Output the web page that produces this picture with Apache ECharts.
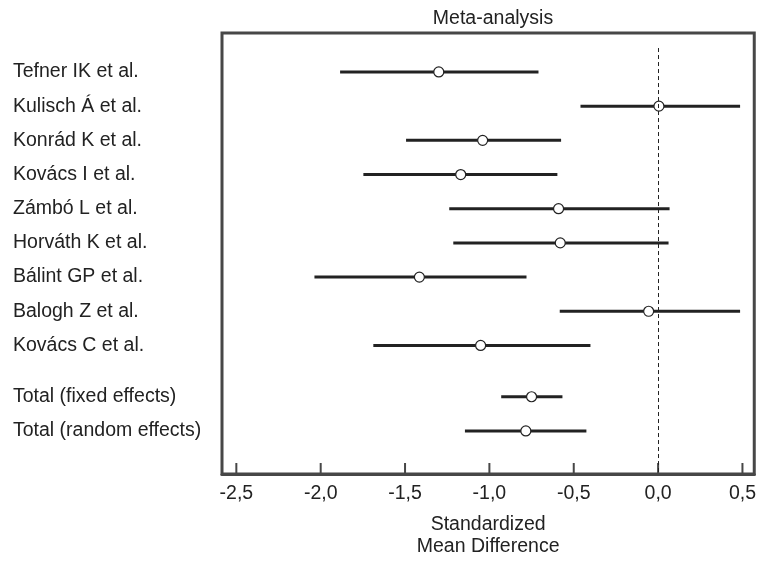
<!DOCTYPE html>
<html>
<head>
<meta charset="utf-8">
<style>
  html, body { margin: 0; padding: 0; background: #fff; }
  #chart { width: 759px; height: 563px; }
</style>
<script src="https://cdn.jsdelivr.net/npm/echarts@6/dist/echarts.min.js"></script>
</head>
<body>
<div id="chart"></div>
<script>
// ── Data ──
const studies = [
  'Tefner IK et al.', 'Kulisch Á et al.', 'Konrád K et al.', 'Kovács I et al.',
  'Zámbó L et al.', 'Horváth K et al.', 'Bálint GP et al.', 'Balogh Z et al.',
  'Kovács C et al.', 'Total (fixed effects)', 'Total (random effects)',
];
const rowPos = [0, 1, 2, 3, 4, 5, 6, 7, 8, 9.5, 10.5];
const smd   = [-1.30, 0.005, -1.04, -1.17, -0.59, -0.58, -1.415, -0.056, -1.052, -0.75, -0.784];
const lower = [-1.885, -0.46, -1.494, -1.747, -1.238, -1.214, -2.037, -0.583, -1.688, -0.93, -1.145];
const upper = [-0.709, 0.486, -0.575, -0.597, 0.068, 0.062, -0.78, 0.486, -0.401, -0.567, -0.425];
const xTicks = [-2.5, -2.0, -1.5, -1.0, -0.5, 0.0, 0.5];

const FONT = '"Liberation Sans", Arial, sans-serif';
const FS = 19.5;
const TEXT = '#222';
const FRAME = '#474747';

const X_MIN = -2.585, X_MAX = 0.57;
const Y_MIN = -1.14, Y_MAX = 11.76;

const chart = echarts.init(document.getElementById('chart'), null, { renderer: 'canvas' });

const ciData = rowPos.map((y, i) => [lower[i], upper[i], y]);
const ptData = rowPos.map((y, i) => [smd[i], y]);
const tickData = xTicks.map(v => [v, Y_MAX]);

chart.setOption({
  backgroundColor: '#fff',
  animation: false,
  textStyle: { fontFamily: FONT },
  title: {
    text: 'Meta-analysis',
    left: 488, top: 4, textAlign: 'center',
    textStyle: { fontSize: FS, fontWeight: 'normal', color: TEXT, fontFamily: FONT },
  },
  grid: {
    left: 222, right: 4, top: 33, bottom: 89,
    show: true, borderColor: FRAME, borderWidth: 3, backgroundColor: 'transparent',
  },
  xAxis: {
    type: 'value', min: X_MIN, max: X_MAX,
    splitLine: { show: false },
    axisLine: { show: true, onZero: false, lineStyle: { color: FRAME, width: 3 } },
    axisTick: { show: false },
    axisLabel: {
      customValues: xTicks, margin: 10,
      fontSize: FS, color: TEXT, fontFamily: FONT,
      formatter: v => v.toFixed(1).replace('.', ','),
    },
    name: 'Standardized\nMean Difference',
    nameLocation: 'middle', nameGap: 40,
    nameTextStyle: { fontSize: FS, color: TEXT, fontFamily: FONT, lineHeight: 22 },
  },
  yAxis: {
    type: 'value', inverse: true, min: Y_MIN, max: Y_MAX,
    splitLine: { show: false },
    axisLine: { show: false, onZero: false },
    axisTick: { show: false },
    axisLabel: {
      customValues: rowPos, align: 'left', margin: 209,
      fontSize: FS, color: TEXT, fontFamily: FONT,
      formatter: v => studies[rowPos.indexOf(v)] || '',
    },
  },
  series: [
    {
      type: 'custom',
      data: ciData,
      encode: { x: [0, 1], y: 2 },
      renderItem: (params, api) => {
        const a = api.coord([api.value(0), api.value(2)]);
        const b = api.coord([api.value(1), api.value(2)]);
        return {
          type: 'line',
          shape: { x1: a[0], y1: a[1], x2: b[0], y2: b[1] },
          style: { stroke: '#222', lineWidth: 3 },
        };
      },
      markLine: {
        silent: true, symbol: 'none', label: { show: false },
        lineStyle: { color: '#222', width: 1, type: [4, 3] },
        data: [[{ coord: [0, -0.7] }, { coord: [0, Y_MAX] }]],
      },
      z: 2,
    },
    {
      // inward ticks on the bottom frame
      type: 'custom',
      data: tickData,
      clip: false,
      encode: { x: 0, y: 1 },
      renderItem: (params, api) => {
        const p = api.coord([api.value(0), api.value(1)]);
        return {
          type: 'line',
          shape: { x1: p[0], y1: p[1], x2: p[0], y2: p[1] - 11 },
          style: { stroke: FRAME, lineWidth: 2 },
        };
      },
      z: 4,
    },
    {
      type: 'scatter',
      data: ptData,
      symbol: 'circle', symbolSize: 10,
      itemStyle: { color: '#fff', borderColor: '#222', borderWidth: 1.2, opacity: 1 },
      z: 3,
    },
  ],
});
</script>
</body>
</html>
